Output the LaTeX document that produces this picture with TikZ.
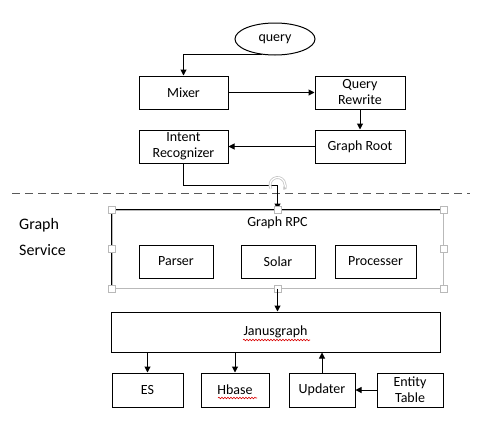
\documentclass[tikz,border=0pt]{standalone}
\usepackage{fontspec}
\setmainfont{Carlito}
\usetikzlibrary{calc}
\usetikzlibrary{shapes}
\usetikzlibrary{arrows.meta}
\usetikzlibrary{decorations.pathmorphing}
\tikzset{box/.style={draw, line width=1pt, inner sep=0pt, align=center, font=\fontsize{14}{16}\selectfont},
arr/.style={line width=1pt, -{Triangle[length=6pt,width=6pt]}},
handlebox/.style={draw=gray!55, fill=white, line width=0.8pt, minimum size=7pt, inner sep=0pt}}
\newcommand{\squiggle}[3]{ \draw[red!85!black, line width=0.6pt, decorate, decoration={snake, amplitude=0.8pt, segment length=3pt}] ( #1 , #3 ) -- ( #2 , #3 );}

\begin{document}
\begin{tikzpicture}[x=1pt, y=-1pt]
\useasboundingbox (0,0) rectangle (486,434);
% query side
\node[draw, ellipse, line width=1pt, minimum width=80pt, minimum height=32pt, inner sep=0pt, font=\fontsize{14}{16}\selectfont] (query) at (275,39) {query};
\node[box, minimum width=89pt, minimum height=33pt] (mixer) at (183.5,92.5) {Mixer};
\node[box, minimum width=90pt, minimum height=33pt] (rewrite) at (360,92.5) {Query\\Rewrite};
\node[box, minimum width=89pt, minimum height=33pt] (intent) at (183.5,146.5) {Intent\\Recognizer};
\node[box, minimum width=90pt, minimum height=33pt] (root) at (360,146.5) {Graph Root};
\draw[arr] (query.230) -| (mixer.north);
\draw[arr] (mixer) -- (rewrite);
\draw[arr] (rewrite) -- (root);
\draw[arr] (root) -- (intent);

\draw[gray!70!black, line width=1pt, dash pattern=on 8pt off 5pt] (12,193) -- (470,193);
\node[align=left, anchor=west, inner sep=0pt, font=\fontsize{16}{18}\selectfont] (service) at (19,237) {Graph\\[8pt]Service};

% graph rpc
\node[draw=gray!55, line width=1pt, minimum width=331pt, minimum height=78pt, inner sep=0pt] (rpc) at (277.5,249) {};
\draw[line width=1pt] (rpc.south west) -- (rpc.north west) -- (rpc.north east);
\node[font=\fontsize{14}{16}\selectfont, inner sep=0pt] (rpclabel) at (277.5,223) {Graph RPC};
\node[box, minimum width=74pt, minimum height=33pt] (parser) at (176,261.5) {Parser};
\node[box, minimum width=74pt, minimum height=33pt] (solar) at (278,261.5) {Solar};
\node[box, minimum width=81pt, minimum height=33pt] (proc) at (375.5,261.5) {Processer};
\coordinate (bend) at (277.5,185);
\draw[arr] (intent.south) |- (bend) -- (rpc.north);
\draw[gray!45, line width=0.8pt, double=white, double distance=1.2pt, -{Triangle[length=3pt,width=4pt]}] (bend) ++(-6.5,3.75) arc (150:400:7.5);
\foreach \a in {north west, north, north east, west, east, south west, south, south east}
  \node[handlebox] at (rpc.\a) {};

% storage
\node[box, minimum width=329pt, minimum height=40pt] (jg) at (275.5,332) {Janusgraph};
\node[box, minimum width=71pt, minimum height=34pt] (es) at (147.5,390) {ES};
\node[box, minimum width=68pt, minimum height=34pt] (hbase) at (235,390) {Hbase};
\node[box, minimum width=66pt, minimum height=34pt] (upd) at (322,390) {Updater};
\node[box, minimum width=66pt, minimum height=34pt] (entity) at (410,390) {Entity\\Table};
\draw[arr] (rpc.south) -- (rpc.south |- jg.north);
\draw[arr] (es.north |- jg.south) -- (es.north);
\draw[arr] (hbase.north |- jg.south) -- (hbase.north);
\draw[arr] (upd.north) -- (upd.north |- jg.south);
\draw[arr] (entity) -- (upd);
\squiggle{243}{310}{340}
\squiggle{218}{257}{398}

\end{tikzpicture}
\end{document}
